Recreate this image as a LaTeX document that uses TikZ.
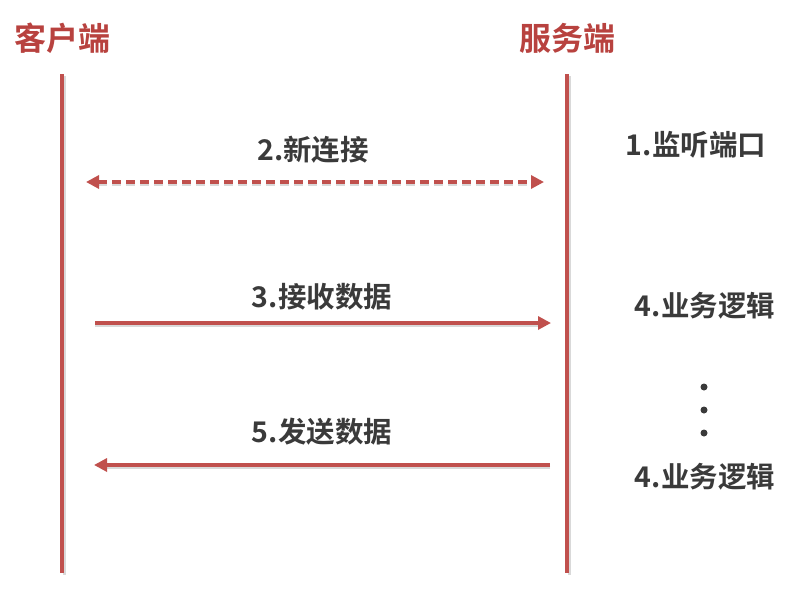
\documentclass[tikz,border=0pt]{standalone}
\usepackage{fontspec}
\setmainfont{Noto Sans CJK SC}[BoldFont={* Bold}]
\usepackage{tikz}
\usetikzlibrary{arrows.meta,positioning,calc}
\usepackage{xcolor}

\definecolor{lifered}{HTML}{C0504D}
\definecolor{titlered}{HTML}{B8423F}
\definecolor{labelgray}{HTML}{3A3A3A}

\begin{document}
\begin{tikzpicture}[
    x=1pt, y=-1pt,
    every node/.style={font=\bfseries, inner sep=0pt},
    title/.style={text=titlered, font=\fontsize{32}{34}\selectfont\bfseries},
    label/.style={text=labelgray, font=\fontsize{28.5}{32}\selectfont\bfseries},
    lifeline/.style={draw=lifered, line width=3.2pt},
    msg/.style={draw=lifered, line width=3.2pt, -{Triangle[length=13pt,width=13pt]}},
    twoway/.style={draw=lifered, line width=3.2pt, dash pattern=on 9pt off 5pt,
        {Triangle[length=13pt,width=13pt]}-{Triangle[length=13pt,width=13pt]}},
    shade/.style={draw=black!15, line width=3pt}
]

% Canvas
\useasboundingbox (0,0) rectangle (800,602);

% Participants
\node[title] (client) at (62, 38) {客户端};
\node[title] (server) at (567, 38) {服务端};

% Lifelines
\coordinate (clientTop) at (62, 74);
\coordinate (clientBot) at (62, 573);
\coordinate (serverTop) at (567, 74);
\coordinate (serverBot) at (567, 573);
\draw[shade] ($(clientTop)+(2,2)$) -- ($(clientBot)+(2,2)$);
\draw[shade] ($(serverTop)+(2,2)$) -- ($(serverBot)+(2,2)$);
\draw[lifeline] (clientTop) -- (clientBot);
\draw[lifeline] (serverTop) -- (serverBot);

% Server side steps
\node[label] (listen) at (696, 145) {1.监听端口};
\node[label] (logicA) at (705, 306) {4.业务逻辑};
\foreach \y/\n in {387/a, 410/b, 433/c} {
    \node[circle, fill=labelgray, minimum size=7pt] (dot\n) at (704, \y) {};
}
\node[label] (logicB) at (705, 477) {4.业务逻辑};

% 2. new connection
\node[label] (connect) at (313, 150) {2.新连接};
\coordinate (connL) at (86, 182);
\coordinate (connR) at (544, 182);
\draw[shade, dash pattern=on 9pt off 5pt] ($(connL)+(12,2)$) -- ($(connR)+(-12,2)$);
\draw[twoway] (connL) -- (connR);

% 3. receive data
\node[label] (recv) at (322, 297) {3.接收数据};
\coordinate (recvL) at (95, 323);
\coordinate (recvR) at (551, 323);
\draw[shade] ($(recvL)+(0,2)$) -- ($(recvR)+(-12,2)$);
\draw[msg] (recvL) -- (recvR);

% 5. send data
\node[label] (send) at (322, 432) {5.发送数据};
\coordinate (sendR) at (550, 465);
\coordinate (sendL) at (94, 465);
\draw[shade] ($(sendR)+(0,2)$) -- ($(sendL)+(12,2)$);
\draw[msg] (sendR) -- (sendL);

\end{tikzpicture}
\end{document}
